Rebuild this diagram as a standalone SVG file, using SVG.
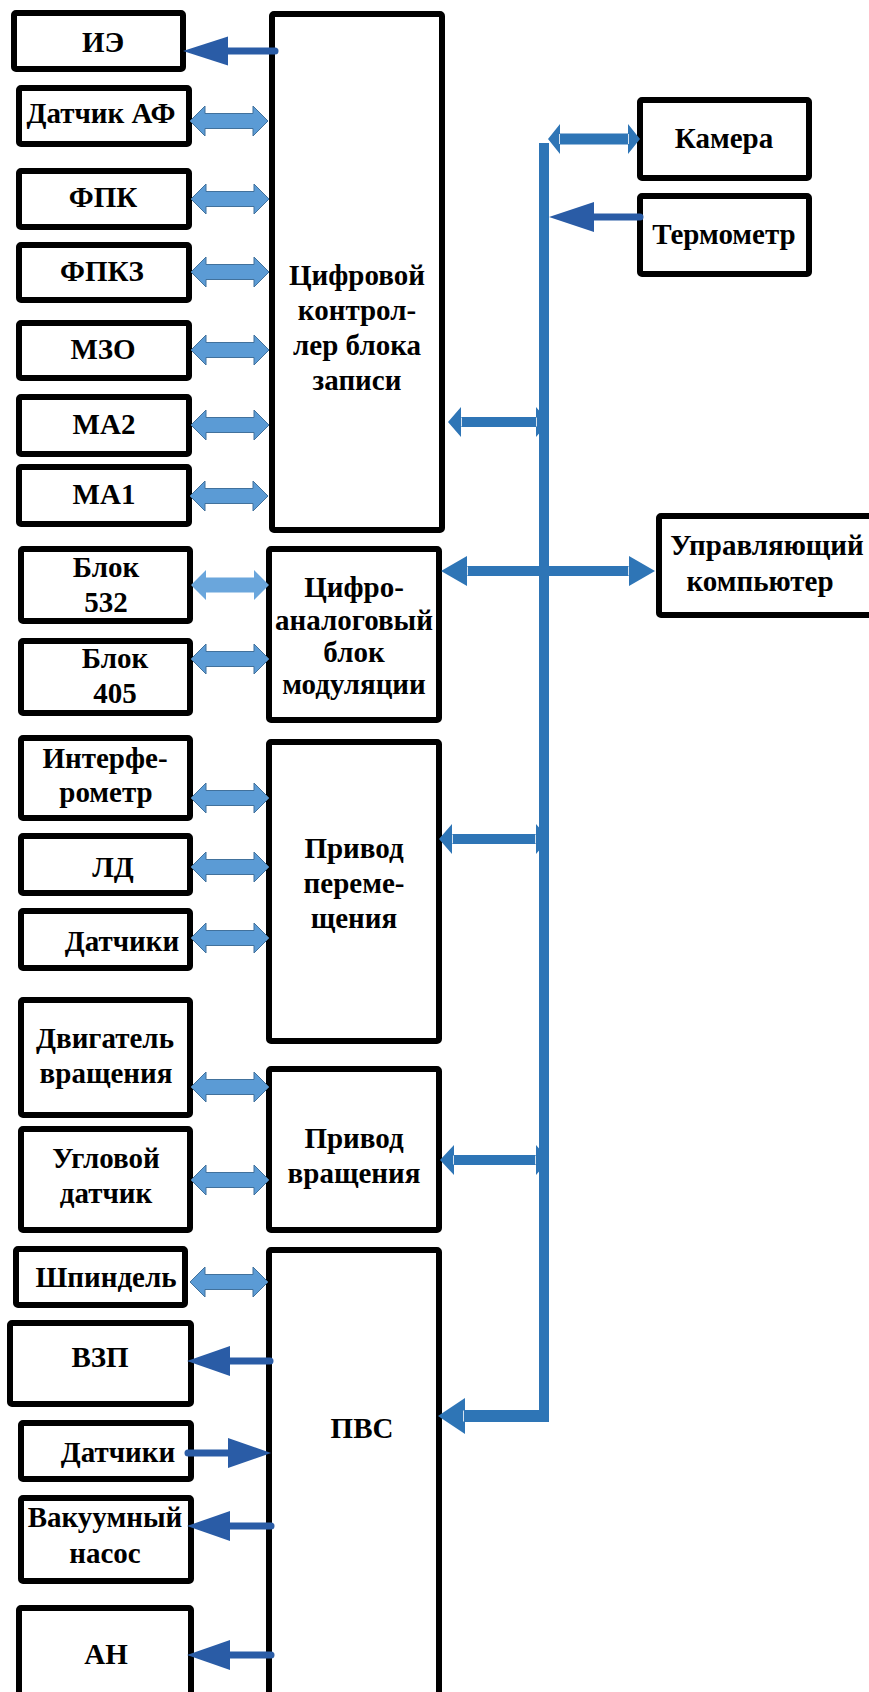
<svg xmlns="http://www.w3.org/2000/svg" width="869" height="1692" viewBox="0 0 869 1692">
<style>
.box{fill:#fff;stroke:#000;stroke-width:6;stroke-linejoin:round}
.t{font-family:"Liberation Serif","Times New Roman",serif;font-weight:bold;font-size:29px;fill:#000;text-anchor:middle}
.la{fill:#5B9BD5;stroke:#41719C;stroke-width:1}
.la2{fill:#6AA6DC}
.da{fill:#2E75B6}
.gap{stroke:#fff;stroke-width:1;opacity:0.8}
.sl{stroke:#2A5CA6;stroke-width:7;stroke-linecap:round;fill:none}
.sh{fill:#2A5CA6}
</style>
<defs>
<path id="lda" d="M0,0 L15,-15 L15,-7.5 L63,-7.5 L63,-15 L78,0 L63,15 L63,7.5 L15,7.5 L15,15 Z"/>
</defs>
<rect width="869" height="1692" fill="#fff"/>

<g id="n-ie"><rect class="box" x="14" y="13" width="169" height="56" rx="2"/><text class="t" x="103" y="52">ИЭ</text></g>
<g id="n-af"><rect class="box" x="19" y="88" width="170" height="56" rx="2"/><text class="t" x="101" y="123">Датчик АФ</text></g>
<g id="n-fpk"><rect class="box" x="19" y="171" width="170" height="56" rx="2"/><text class="t" x="103" y="207">ФПК</text></g>
<g id="n-fpkz"><rect class="box" x="19" y="245" width="170" height="55" rx="2"/><text class="t" x="102" y="281">ФПКЗ</text></g>
<g id="n-mzo"><rect class="box" x="19" y="323" width="170" height="55" rx="2"/><text class="t" x="103" y="359">МЗО</text></g>
<g id="n-ma2"><rect class="box" x="19" y="397" width="170" height="57" rx="2"/><text class="t" x="104" y="434">МА2</text></g>
<g id="n-ma1"><rect class="box" x="19" y="467" width="170" height="57" rx="2"/><text class="t" x="104" y="504">МА1</text></g>
<g id="n-ctrl"><rect class="box" x="272" y="14" width="170" height="516" rx="2"/>
<text class="t" x="357" y="285">Цифровой</text><text class="t" x="357" y="320">контрол-</text><text class="t" x="357" y="355">лер блока</text><text class="t" x="357" y="390">записи</text></g>
<g id="n-cam"><rect class="box" x="640" y="100" width="169" height="78" rx="2"/><text class="t" x="724" y="148">Камера</text></g>
<g id="n-therm"><rect class="box" x="640" y="196" width="169" height="78" rx="2"/><text class="t" x="724" y="244">Термометр</text></g>
<g id="n-b532"><rect class="box" x="21" y="549" width="169" height="72" rx="2"/><text class="t" x="106" y="577">Блок</text><text class="t" x="106" y="612">532</text></g>
<g id="n-b405"><rect class="box" x="21" y="641" width="169" height="72" rx="2"/><text class="t" x="115" y="668">Блок</text><text class="t" x="115" y="703">405</text></g>
<g id="n-dac"><rect class="box" x="269" y="549" width="170" height="171" rx="2"/>
<text class="t" x="354" y="597">Цифро-</text><text class="t" x="354" y="630">аналоговый</text><text class="t" x="354" y="662">блок</text><text class="t" x="354" y="694">модуляции</text></g>
<g id="n-pc"><rect class="box" x="659" y="516" width="230" height="99" rx="2"/><text class="t" x="767" y="555">Управляющий</text><text class="t" x="760" y="591">компьютер</text></g>
<g id="n-interf"><rect class="box" x="21" y="738" width="169" height="80" rx="2"/><text class="t" x="105" y="768">Интерфе-</text><text class="t" x="106" y="802">рометр</text></g>
<g id="n-ld"><rect class="box" x="21" y="836" width="169" height="57" rx="2"/><text class="t" x="113" y="877">ЛД</text></g>
<g id="n-sens1"><rect class="box" x="21" y="911" width="169" height="57" rx="2"/><text class="t" x="122" y="951">Датчики</text></g>
<g id="n-move"><rect class="box" x="269" y="742" width="170" height="299" rx="2"/>
<text class="t" x="354" y="858">Привод</text><text class="t" x="354" y="893">переме-</text><text class="t" x="354" y="928">щения</text></g>
<g id="n-motor"><rect class="box" x="21" y="1000" width="169" height="115" rx="2"/><text class="t" x="105" y="1048">Двигатель</text><text class="t" x="106" y="1083">вращения</text></g>
<g id="n-angle"><rect class="box" x="21" y="1129" width="169" height="101" rx="2"/><text class="t" x="106" y="1168">Угловой</text><text class="t" x="106" y="1203">датчик</text></g>
<g id="n-rot"><rect class="box" x="269" y="1069" width="170" height="161" rx="2"/><text class="t" x="354" y="1148">Привод</text><text class="t" x="354" y="1183">вращения</text></g>
<g id="n-spindle"><rect class="box" x="16" y="1249" width="169" height="56" rx="2"/><text class="t" x="106" y="1287">Шпиндель</text></g>
<g id="n-pvs"><rect class="box" x="269" y="1250" width="170" height="470" rx="2"/><text class="t" x="362" y="1438">ПВС</text></g>
<g id="n-vzp"><rect class="box" x="10" y="1323" width="181" height="81" rx="2"/><text class="t" x="100" y="1367">ВЗП</text></g>
<g id="n-sens2"><rect class="box" x="21" y="1423" width="170" height="56" rx="2"/><text class="t" x="118" y="1462">Датчики</text></g>
<g id="n-vac"><rect class="box" x="21" y="1498" width="170" height="83" rx="2"/><text class="t" x="105" y="1527">Вакуумный</text><text class="t" x="105" y="1563">насос</text></g>
<g id="n-an"><rect class="box" x="19" y="1608" width="172" height="100" rx="2"/><text class="t" x="106" y="1664">АН</text></g>

<g id="connectors">
<use href="#lda" class="la" x="190" y="121"/>
<use href="#lda" class="la" x="191" y="199"/>
<use href="#lda" class="la" x="191" y="272"/>
<use href="#lda" class="la" x="191" y="350"/>
<use href="#lda" class="la" x="191" y="425"/>
<use href="#lda" class="la" x="190" y="496"/>
<use href="#lda" class="la2" x="191" y="585"/>
<use href="#lda" class="la" x="191" y="659"/>
<use href="#lda" class="la" x="191" y="798"/>
<use href="#lda" class="la" x="191" y="867"/>
<use href="#lda" class="la" x="191" y="938"/>
<use href="#lda" class="la" x="191" y="1087"/>
<use href="#lda" class="la" x="191" y="1180"/>
<use href="#lda" class="la" x="190" y="1282"/>

<path class="da" d="M548,139 L560,124 L560,133.5 L628,133.5 L628,124 L640,139 L628,154 L628,144.5 L560,144.5 L560,154 Z"/>
<path class="da" d="M448,422 L461,407 L461,417 L536,417 L536,407 L549,422 L536,437 L536,427 L461,427 L461,437 Z"/>
<path class="da" d="M441,571 L467,556 L467,566 L629,566 L629,556 L655,571 L629,586 L629,576 L467,576 L467,586 Z"/>
<path class="da" d="M439,839 L452,824 L452,834 L536,834 L536,824 L549,839 L536,854 L536,844 L452,844 L452,854 Z"/>
<path class="da" d="M440,1160 L454,1145 L454,1155 L536,1155 L536,1145 L549,1160 L536,1175 L536,1165 L454,1165 L454,1175 Z"/>
<rect class="da" x="539" y="143" width="10" height="1279"/>
<rect class="da" x="465" y="1410" width="84" height="12"/>
<polygon class="da" points="438,1416 465,1398 465,1434"/>
<path class="gap" d="M559.5,134 V144 M628.5,134 V144 M461.5,417.5 V426.5 M536.5,417.5 V426.5 M467.5,566.5 V575.5 M628.5,566.5 V575.5 M452.5,834.5 V843.5 M535.5,834.5 V843.5 M453.5,1155.5 V1164.5 M535.5,1155.5 V1164.5 M463.5,1410.5 V1421.5"/>

<line class="sl" x1="275" y1="51" x2="225" y2="51"/><polygon class="sh" points="183,51 228,36.5 228,65.5"/>
<line class="sl" x1="640" y1="217" x2="592" y2="217"/><polygon class="sh" points="549,217 594,202 594,232"/>
<line class="sl" x1="270" y1="1361" x2="228" y2="1361"/><polygon class="sh" points="187,1361 230,1346 230,1376"/>
<line class="sl" x1="188" y1="1453" x2="230" y2="1453"/><polygon class="sh" points="271,1453 228,1438 228,1468"/>
<line class="sl" x1="271" y1="1526" x2="228" y2="1526"/><polygon class="sh" points="187,1526 230,1511 230,1541"/>
<line class="sl" x1="271" y1="1655" x2="228" y2="1655"/><polygon class="sh" points="187,1655 230,1640 230,1670"/>
</g>
</svg>
